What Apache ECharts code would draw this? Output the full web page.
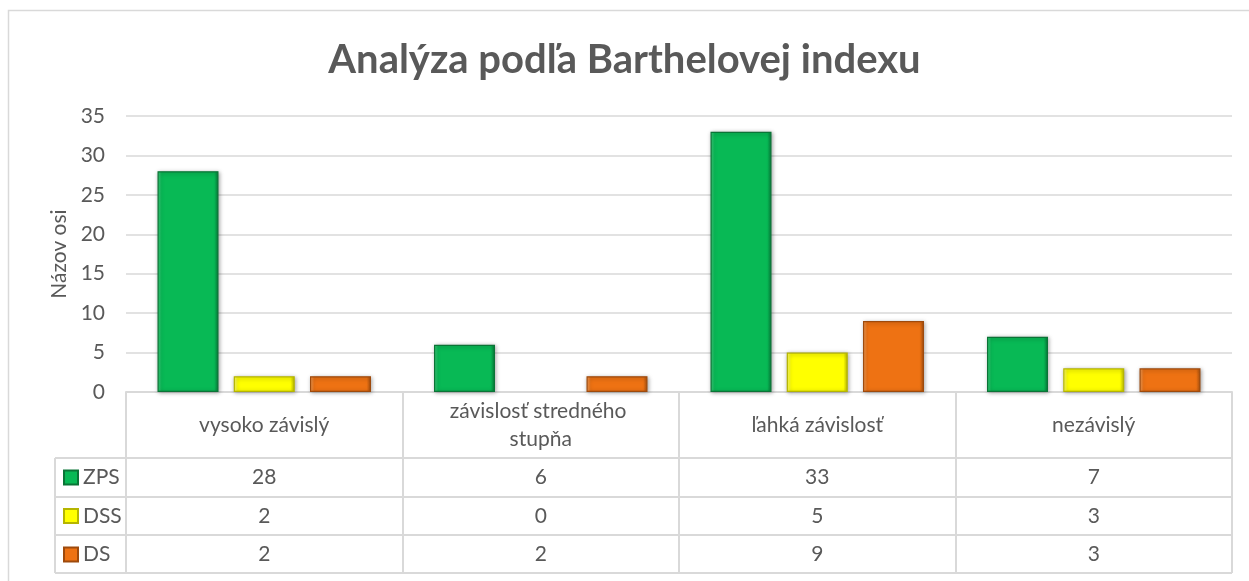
<!DOCTYPE html>
<html>
<head>
<meta charset="utf-8">
<script src="https://cdn.jsdelivr.net/npm/echarts@6/dist/echarts.min.js"></script>
<style>
  html, body { margin: 0; padding: 0; background: #ffffff; }
  #chart { width: 1249px; height: 581px; }
</style>
</head>
<body>
<div id="chart"></div>
<script>
// ---- data ----
const categories = ['vysoko závislý', 'závislosť stredného stupňa', 'ľahká závislosť', 'nezávislý'];
const seriesNames = ['ZPS', 'DSS', 'DS'];
const zpsValues = [28, 6, 33, 7];
const dssValues = [2, 0, 5, 3];
const dsValues = [2, 2, 9, 3];
const yTicks = [0, 5, 10, 15, 20, 25, 30, 35];

// ---- layout / style ----
const FONT = 'Lato, "Open Sans", sans-serif';
const TXT = '#595959';
const LINE = '#D9D9D9';
const W = 1249, H = 581;
const gridLeft = 126, gridRight = 17, gridTop = 116, gridBottom = 189;
const axisY = H - gridBottom;            // 392
const rowBottoms = [458, 497, 535, 573];  // header, ZPS, DSS, DS row bottom edges
const legendColLeft = 55;
const tableRight = W - gridRight;

const colors = {
  ZPS: { fill: '#08B955', light: '#3FD27F', dark: '#067C3A', border: '#0A7436' },
  DSS: { fill: '#FFFF00', light: '#FFFF7A', dark: '#BDBD00', border: '#B5B500' },
  DS:  { fill: '#EE7213', light: '#F7A25E', dark: '#A9510E', border: '#9E4A0C' }
};

function barStyle(c) {
  return {
    color: {
      type: 'linear', x: 0, y: 0, x2: 1, y2: 0,
      colorStops: [
        { offset: 0, color: c.light },
        { offset: 0.07, color: c.fill },
        { offset: 0.93, color: c.fill },
        { offset: 1, color: c.dark }
      ]
    },
    borderColor: c.border,
    borderWidth: 1.2,
    shadowColor: 'rgba(0,0,0,0.35)',
    shadowBlur: 4,
    shadowOffsetX: 1,
    shadowOffsetY: 1
  };
}

const valueSets = [zpsValues, dssValues, dsValues];
const rowCenters = [
  (rowBottoms[0] + rowBottoms[1]) / 2,
  (rowBottoms[1] + rowBottoms[2]) / 2,
  (rowBottoms[2] + rowBottoms[3]) / 2
];

const extraXAxes = valueSets.map((vals, k) => ({
  type: 'category',
  data: categories,
  gridIndex: 0,
  position: 'bottom',
  axisLine: { show: false },
  axisTick: { show: false },
  splitLine: { show: false },
  axisLabel: {
    interval: 0,
    margin: rowCenters[k] - axisY,
    verticalAlign: 'middle',
    fontFamily: FONT, fontSize: 21, color: TXT,
    formatter: function (v, i) { return String(vals[i]); }
  }
}));

const graphics = [];
// outer border
graphics.push({
  type: 'rect', silent: true,
  shape: { x: 8.5, y: 10.5, width: W, height: H + 10 },
  style: { fill: 'none', stroke: LINE, lineWidth: 1.5 }
});
// table horizontal lines (rows)
rowBottoms.forEach((y) => {
  graphics.push({
    type: 'line', silent: true,
    shape: { x1: legendColLeft, y1: y, x2: tableRight, y2: y },
    style: { stroke: LINE, lineWidth: 2 }
  });
});
// legend column left border
graphics.push({
  type: 'line', silent: true,
  shape: { x1: legendColLeft, y1: rowBottoms[0], x2: legendColLeft, y2: rowBottoms[3] },
  style: { stroke: LINE, lineWidth: 2 }
});

const option = {
  backgroundColor: '#ffffff',
  animation: false,
  title: {
    text: 'Analýza podľa Barthelovej indexu',
    left: 'center',
    top: 35,
    textStyle: { fontFamily: FONT, fontSize: 40, fontWeight: 'bold', color: TXT }
  },
  legend: {
    data: seriesNames,
    orient: 'vertical',
    left: 63,
    top: rowCenters[0] - 10.5,
    padding: 0,
    itemWidth: 14,
    itemHeight: 14,
    itemGap: (rowCenters[1] - rowCenters[0]) - 21,
    icon: 'rect',
    textStyle: { fontFamily: FONT, fontSize: 21, color: TXT, lineHeight: 21, padding: [0, 0, 0, 0] }
  },
  grid: { left: gridLeft, right: gridRight, top: gridTop, bottom: gridBottom, containLabel: false },
  xAxis: [{
    type: 'category',
    data: categories,
    position: 'bottom',
    axisLine: { show: true, lineStyle: { color: LINE, width: 2 } },
    axisTick: { show: true, interval: 0, alignWithLabel: false, length: rowBottoms[3] - axisY, lineStyle: { color: LINE, width: 2 } },
    axisLabel: {
      interval: 0,
      margin: (rowBottoms[0] - axisY) / 2,
      verticalAlign: 'middle',
      width: 230,
      overflow: 'break',
      lineHeight: 28,
      fontFamily: FONT, fontSize: 21, color: TXT
    },
    splitLine: { show: false }
  }].concat(extraXAxes),
  yAxis: {
    type: 'value',
    min: 0, max: 35, interval: 5,
    name: 'Názov osi',
    nameLocation: 'middle',
    nameRotate: 90,
    nameGap: 56,
    nameTextStyle: { fontFamily: FONT, fontSize: 21, color: TXT },
    axisLine: { show: false },
    axisTick: { show: false },
    axisLabel: {
      margin: 21, fontFamily: FONT, fontSize: 21, color: TXT,
      formatter: function (v) { return yTicks.indexOf(v) >= 0 ? String(v) : ''; }
    },
    splitLine: { lineStyle: { color: LINE, width: 1.5 } }
  },
  series: seriesNames.map((name, k) => ({
    name: name,
    type: 'bar',
    xAxisIndex: 0,
    data: valueSets[k].map(v => v === 0
      ? { value: v, itemStyle: { borderWidth: 0, shadowBlur: 0, shadowOffsetX: 0, shadowOffsetY: 0, opacity: 0 } }
      : v),
    barWidth: 61,
    barGap: '25%',
    itemStyle: barStyle(colors[name])
  })),
  graphic: graphics
};

const chart = echarts.init(document.getElementById('chart'), null, { renderer: 'canvas' });
chart.setOption(option);
</script>
</body>
</html>
